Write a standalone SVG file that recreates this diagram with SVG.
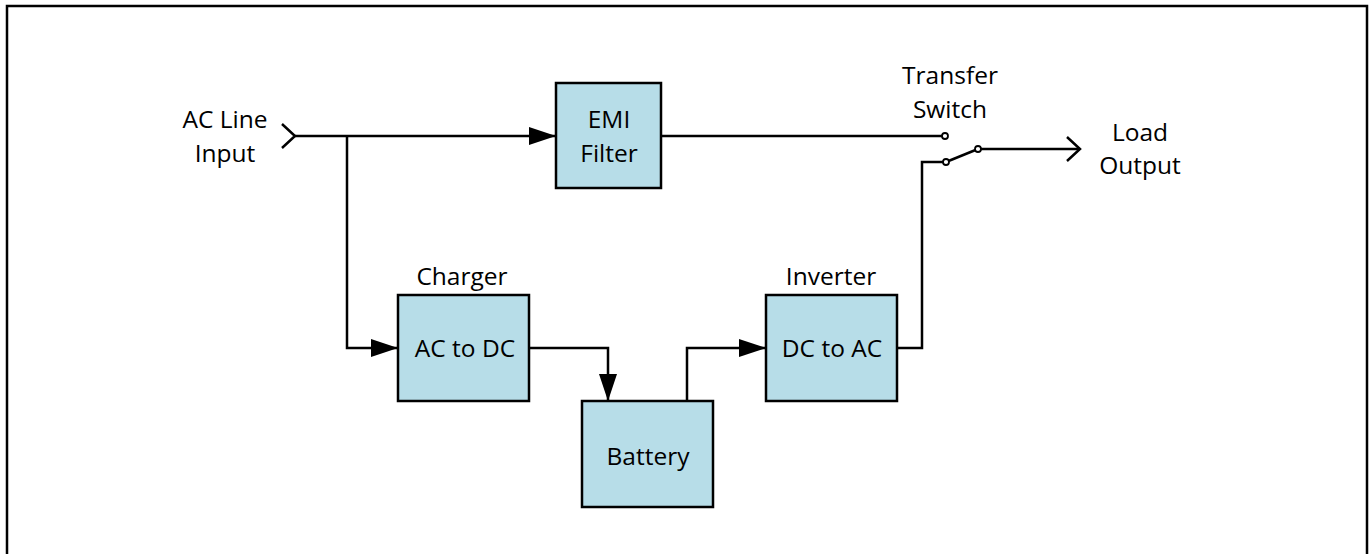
<svg xmlns="http://www.w3.org/2000/svg" width="1370" height="554" viewBox="0 0 1370 554">
<style>
.box{fill:#b7dde8;stroke:#000;stroke-width:2.5}
.ln{fill:none;stroke:#000;stroke-width:2.5}
.t{font-family:"Open Sans","Noto Sans",sans-serif;font-size:24.5px;fill:#000;text-anchor:middle}
.dot{fill:#fff;stroke:#000;stroke-width:1.8}
</style>
<defs>
<marker id="ah" markerWidth="28" markerHeight="20" refX="27" refY="9" orient="auto" markerUnits="userSpaceOnUse">
<path d="M0,0 L27,9 L0,18 Z" fill="#000"/>
</marker>
</defs>
<rect x="7" y="6" width="1360" height="560" fill="#fff" stroke="#000" stroke-width="2.5"/>
<g id="connectors">
<path class="ln" d="M282,124 L295,136 L282,148"/>
<path class="ln" d="M295,136 L556,136" marker-end="url(#ah)"/>
<path class="ln" d="M347,136 L347,348 L398,348" marker-end="url(#ah)"/>
<path class="ln" d="M529,348 L608,348 L608,401" marker-end="url(#ah)"/>
<path class="ln" d="M687,401 L687,348 L766,348" marker-end="url(#ah)"/>
<path class="ln" d="M897,348 L922,348 L922,162 L943,162"/>
<path class="ln" d="M661,136 L942,136"/>
<path class="ln" d="M948.5,161 L975.5,150"/>
<path class="ln" d="M981,149 L1080,149"/>
<path class="ln" d="M1067,137 L1080,149 L1067,161"/>
</g>
<g id="switch">
<circle class="dot" cx="945" cy="136" r="3"/>
<circle class="dot" cx="946" cy="162" r="3"/>
<circle class="dot" cx="978" cy="149" r="3"/>
<text class="t" x="950" y="84">Transfer</text>
<text class="t" x="950" y="118">Switch</text>
</g>
<g id="ac-input"><text class="t" x="225" y="128">AC Line</text><text class="t" x="225" y="162">Input</text></g>
<g id="load-output"><text class="t" x="1140" y="141">Load</text><text class="t" x="1140" y="174">Output</text></g>
<g id="emi"><rect class="box" x="556" y="83" width="105" height="105"/><text class="t" x="609" y="128">EMI</text><text class="t" x="609" y="162">Filter</text></g>
<g id="charger"><text class="t" x="462" y="285">Charger</text><rect class="box" x="398" y="295" width="131" height="106"/><text class="t" x="465" y="357">AC to DC</text></g>
<g id="battery"><rect class="box" x="582" y="401" width="131" height="106"/><text class="t" x="648" y="465">Battery</text></g>
<g id="inverter"><text class="t" x="831" y="285">Inverter</text><rect class="box" x="766" y="295" width="131" height="106"/><text class="t" x="832" y="357">DC to AC</text></g>
</svg>
